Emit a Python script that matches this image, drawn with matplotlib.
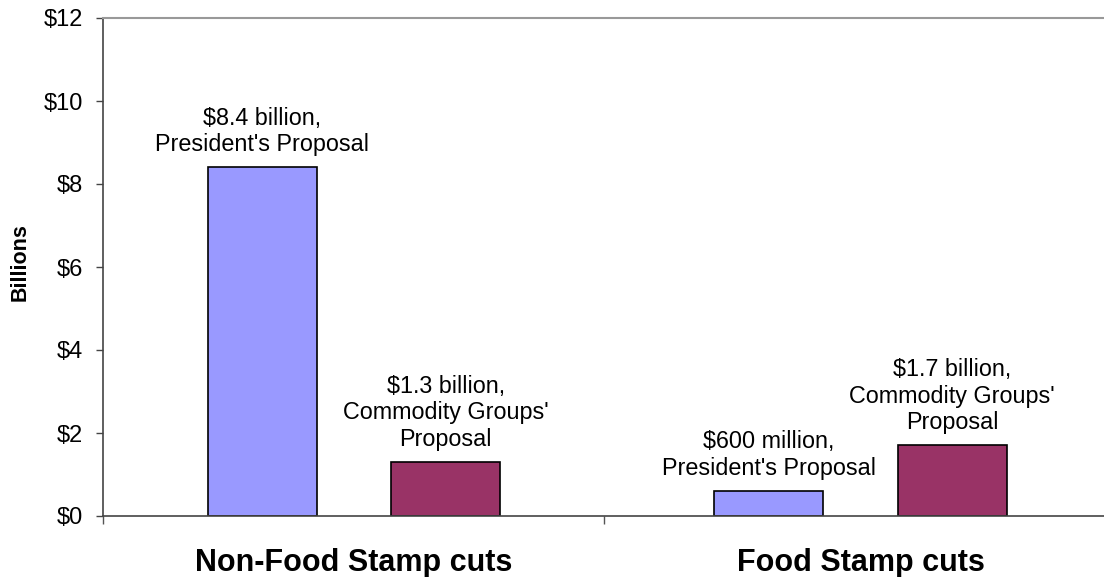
import numpy as np
import matplotlib
matplotlib.use("Agg")
import matplotlib.pyplot as plt

plt.rcParams['font.family'] = ['Liberation Sans', 'DejaVu Sans']

categories = ["Non-Food Stamp cuts", "Food Stamp cuts"]
president = [8.4, 0.6]
commodity = [1.3, 1.7]
president_labels = ["$8.4 billion,\nPresident's Proposal", "$600 million,\nPresident's Proposal"]
commodity_labels = ["$1.3 billion,\nCommodity Groups'\nProposal", "$1.7 billion,\nCommodity Groups'\nProposal"]
yticks = [0, 2, 4, 6, 8, 10, 12]
ytick_labels = ["$0", "$2", "$4", "$6", "$8", "$10", "$12"]

fig = plt.figure(figsize=(11.04, 5.77), dpi=100)
ax = fig.add_axes([103/1104, 1 - 516/577, 1 - 103/1104, (516 - 18)/577])

x = np.arange(len(categories))
w = 0.215
off = 0.181
ax.bar(x - off, president, w, color="#9999FF", edgecolor="black", linewidth=1.2)
ax.bar(x + off, commodity, w, color="#993366", edgecolor="black", linewidth=1.2)

for i in range(len(categories)):
    ax.annotate(president_labels[i], (x[i] - off, president[i]), xytext=(0, 8),
                textcoords="offset points", ha="center", va="bottom",
                fontsize=16.8, linespacing=1.2)
    ax.annotate(commodity_labels[i], (x[i] + off, commodity[i]), xytext=(0, 8),
                textcoords="offset points", ha="center", va="bottom",
                fontsize=16.8, linespacing=1.2)

ax.set_xlim(-0.496, 1.481)
ax.set_ylim(0, 12)
ax.set_yticks(yticks)
ax.set_yticklabels(ytick_labels, fontsize=17)
# category separators
ax.set_xticks([-0.496, 0.493])
ax.set_xticklabels(["", ""])
ax.set_xticks(x, minor=True)
ax.set_xticklabels(categories, minor=True, fontsize=22, fontweight="bold")
ax.tick_params(axis="x", which="minor", length=0, pad=23)
ax.tick_params(axis="x", which="major", length=6, width=1, color="#555555")
ax.tick_params(axis="y", length=5, width=1, color="#444444", pad=9.5)
ax.set_ylabel("Billions", fontsize=15.5, fontweight="bold")
ax.yaxis.set_label_coords(-0.072, 0.51)

ax.spines["right"].set_visible(False)
ax.spines["top"].set_color("#999999")
ax.spines["top"].set_linewidth(1.5)
ax.spines["left"].set_color("#444444")
ax.spines["bottom"].set_color("#444444")
ax.spines["left"].set_linewidth(1.2)
ax.spines["bottom"].set_linewidth(1.2)

fig.savefig("out.png", dpi=100)
